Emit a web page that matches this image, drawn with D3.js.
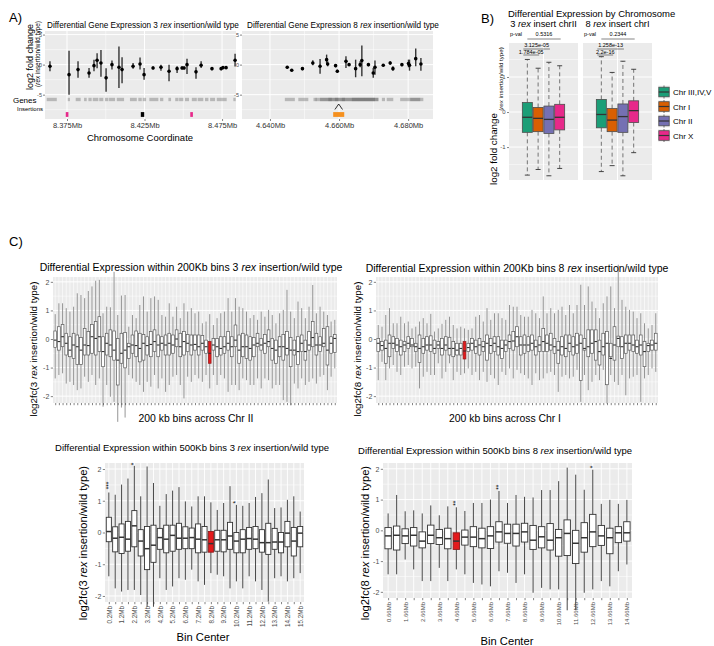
<!DOCTYPE html>
<html><head><meta charset="utf-8">
<script src="https://cdn.jsdelivr.net/npm/d3@7/dist/d3.min.js"></script>
<style>body{margin:0;background:#fff} text{white-space:pre}</style>
</head><body><script>
// ---------------- DATA ----------------
// Panel A (3 rex, chr II) gene-level log2FC with error bars
const a3Pos=[8.3640,8.3763,8.3821,8.3892,8.3924,8.3944,8.3969,8.4002,8.4040,8.4085,8.4105,8.4176,8.4221,8.4247,8.4305,8.4356,8.4408,8.4460,8.4492,8.4505,8.4524,8.4582,8.4615,8.4685,8.4744,8.4756,8.4776,8.4834];
const a3Val=[-0.28,-1.67,-0.83,-1.4,-0.17,0.72,0.28,-2.2,0.0,-0.44,-0.83,-0.28,0.1,-1.67,-0.55,-0.44,-1.1,-0.67,-0.55,-0.55,0.0,-1.2,-0.1,-0.67,-0.67,-0.5,-0.5,0.72];
const a3Hi=[0.55,2.3,0.55,-0.55,0.83,1.9,2.45,-0.6,0.67,3.0,1.23,0.28,1.2,-0.55,-0.28,0.0,0.0,-0.28,-0.28,-0.3,1.0,-0.44,0.55,-0.39,-0.39,-0.3,-0.3,1.8];
const a3Lo=[-1.1,-5.0,-2.2,-2.2,-1.1,-0.6,-2.0,-4.5,-0.83,-3.9,-3.1,-0.67,-0.83,-2.5,-0.83,-1.0,-2.78,-1.39,-0.83,-0.8,-1.55,-2.33,-0.55,-0.94,-0.94,-0.7,-0.7,-0.3];
const a3Genes=[[8.3619,8.3684],[8.3755,8.3769],[8.3806,8.3838],[8.3860,8.3877],[8.3888,8.3909],[8.3916,8.3952],[8.3958,8.3984],[8.3995,8.4017],[8.4021,8.4060],[8.4071,8.4118],[8.4156,8.4200],[8.4210,8.4232],[8.4238,8.4260],[8.4281,8.4339],[8.4350,8.4371],[8.4404,8.4421],[8.4448,8.4469],[8.4473,8.4500],[8.4511,8.4537],[8.4555,8.4587],[8.4593,8.4629],[8.4640,8.4662],[8.4673,8.4705],[8.4716,8.4780],[8.4823,8.4838]];
const a3Ins=[[8.3742,8.3759,"#e7298a"],[8.4226,8.4248,"#000000"],[8.4545,8.4562,"#e7298a"]];
// Panel A (8 rex, chr I)
const a8Pos=[4.6450,4.6463,4.6494,4.6524,4.6545,4.6564,4.6567,4.6590,4.6595,4.6620,4.6629,4.6648,4.6661,4.6666,4.6685,4.6699,4.6704,4.6728,4.6748,4.6756,4.6782,4.6801,4.6804,4.6822,4.6837];
const a8Val=[-0.44,-0.94,-0.67,0.28,-0.28,0.83,0.1,-0.17,-1.1,0.55,0.0,-0.67,0.0,0.67,0.0,-1.4,-0.44,-0.1,0.28,-0.67,0.0,0.17,-0.1,1.0,0.1];
const a8Hi=[-0.28,-0.8,-0.39,0.72,0.94,1.67,0.55,0.11,-0.83,1.39,0.28,0.83,0.55,3.2,0.28,-0.55,0.67,0.11,0.55,-0.28,0.28,0.83,0.83,2.67,1.1];
const a8Lo=[-0.67,-1.1,-0.94,-0.11,-1.5,0.28,-0.28,-0.44,-1.39,-0.55,-0.17,-2.1,-0.44,-1.94,-0.28,-2.2,-1.67,-0.33,0.0,-1.0,-0.28,-0.44,-1.0,-0.28,-1.0];
const a8Genes=[[4.6443,4.6472],[4.6482,4.6511],[4.6526,4.6535],[4.6532,4.6579],[4.6545,4.6598],[4.6569,4.6617],[4.6588,4.6656],[4.6608,4.6675],[4.6637,4.6714],[4.6656,4.6704],[4.6675,4.6714],[4.6724,4.6733],[4.6738,4.6757],[4.6777,4.6844],[4.6806,4.6835]];
const a8Ins=[[4.6583,4.6615,"#f5901e"]];
const a8Caret=4.6599;
const a3Ticks=[8.375,8.425,8.475], a3Minor=[8.40,8.45];
const a8Ticks=[4.640,4.660,4.680], a8Minor=[4.65,4.67];

// Panel B
const chrNames=["Chr III,IV,V","Chr I","Chr II","Chr X"];
const chrColors=["#1b9e77","#d95f02","#7570b3","#e7298a"];
const b3Q3=[0.27,0.13,0.17,0.22], b3Med=[-0.15,-0.18,-0.21,-0.15], b3Q1=[-0.58,-0.56,-0.61,-0.51], b3Hi=[1.5,1.25,1.42,1.32], b3Lo=[-1.8,-1.64,-1.82,-1.61];
const b8Q3=[0.36,0.10,0.23,0.32], b8Med=[-0.07,-0.23,-0.13,0.04], b8Q1=[-0.45,-0.56,-0.58,-0.30], b8Hi=[1.58,1.13,1.45,1.22], b8Lo=[-1.70,-1.53,-1.82,-1.16];
const b3P=["0.5316","3.125e-05","1.784e-05"], b8P=["0.2344","1.258e-13","2.2e-16"];
const bPairs=[[0,3],[0,2],[0,1]];

// Panel C 200kb bins, 3 rex (Chr II)
const c2Q3=[0.28,0.43,0.51,0.20,0.08,0.20,0.14,0.05,0.37,0.26,0.51,0.61,0.78,0.08,0.20,0.32,0.28,0.02,0.20,0.23,-0.15,0.14,0.28,0.20,0.16,0.08,0.26,0.32,0.14,0.08,0.14,0.20,0.14,0.32,0.20,0.26,0.16,0.14,0.14,0.14,0.12,-0.04,-0.09,0.02,0.02,0.08,0.08,0.26,0.08,0.49,0.14,0.20,0.14,0.08,0.05,0.20,0.02,0.16,0.32,0.02,-0.04,0.08,0.16,0.26,0.05,-0.04,0.08,0.14,-0.04,0.26,0.61,0.20,0.08,0.37,0.43,0.08,0.16];
const c2Med=[-0.04,-0.09,0.08,-0.15,-0.39,-0.21,-0.27,-0.39,-0.21,-0.23,0.08,0.02,0.08,-0.44,-0.15,-0.21,-0.39,-0.74,-0.50,-0.39,-0.27,-0.21,-0.23,-0.33,-0.15,-0.23,-0.19,-0.09,-0.21,-0.15,-0.21,-0.15,-0.21,0.00,-0.27,-0.09,-0.15,-0.21,-0.19,-0.27,-0.15,-0.27,-0.50,-0.21,-0.27,-0.33,-0.27,-0.15,-0.27,-0.04,-0.39,-0.27,-0.27,-0.33,-0.21,-0.15,-0.21,-0.15,-0.09,-0.33,-0.39,-0.27,-0.27,-0.33,-0.39,-0.39,-0.44,-0.15,-0.44,-0.21,0.05,-0.21,-0.21,-0.15,-0.39,-0.15,0.02];
const c2Q1=[-0.30,-0.39,-0.27,-0.56,-0.62,-0.68,-0.89,-0.89,-0.56,-0.56,-0.50,-0.56,-0.44,-0.97,-0.56,-0.62,-0.74,-1.61,-0.85,-1.01,-0.68,-0.50,-0.62,-0.80,-0.74,-0.56,-0.62,-0.44,-0.62,-0.39,-0.56,-0.56,-0.50,-0.27,-0.62,-0.56,-0.44,-0.56,-0.39,-0.56,-0.39,-0.50,-0.85,-0.39,-0.62,-0.56,-0.50,-0.39,-0.62,-0.27,-0.85,-0.62,-0.68,-0.74,-0.62,-0.27,-0.39,-0.50,-0.27,-0.74,-0.85,-0.62,-0.74,-0.56,-0.97,-0.56,-0.89,-0.44,-0.74,-0.39,-0.27,-0.56,-0.44,-0.27,-0.91,-0.50,-0.47];
const c2Hi=[0.87,1.25,1.25,1.08,0.96,1.13,1.60,1.54,1.43,1.68,1.84,2.04,2.07,0.90,1.13,1.11,2.35,0.84,1.52,1.54,0.43,0.84,0.73,1.19,1.49,0.96,1.43,1.49,1.37,0.84,0.78,1.25,0.78,1.13,0.73,1.25,0.96,1.08,0.90,0.96,0.55,0.61,0.87,0.49,0.73,0.90,0.96,1.43,0.96,1.43,1.13,1.08,0.96,0.73,0.84,0.67,0.96,0.78,1.02,0.84,0.55,0.90,1.02,1.72,0.96,0.73,1.31,1.08,0.73,1.13,1.89,0.90,1.13,0.96,0.84,0.61,0.67];
const c2Lo=[-1.38,-1.26,-1.20,-1.56,-1.50,-1.61,-1.79,-1.73,-1.32,-1.50,-1.26,-1.61,-1.38,-2.37,-1.61,-2.02,-2.20,-2.90,-2.40,-2.75,-1.26,-1.38,-1.50,-1.61,-1.85,-1.50,-1.67,-1.26,-1.73,-1.38,-1.85,-1.61,-1.32,-1.26,-1.61,-2.08,-1.32,-1.50,-1.26,-1.38,-1.50,-1.26,-1.73,-1.26,-1.61,-1.26,-1.38,-1.85,-1.61,-1.61,-1.79,-1.38,-1.44,-1.61,-1.61,-1.38,-1.73,-1.38,-1.44,-1.73,-1.61,-1.61,-2.14,-2.20,-2.32,-1.56,-1.73,-1.38,-1.61,-1.50,-1.38,-1.56,-1.32,-1.26,-1.79,-1.32,-1.03];
const c2Red=42;
// Panel C 200kb bins, 8 rex (Chr I)
const c1Q3=[0.02,-0.09,-0.04,0.14,0.08,0.02,-0.04,-0.09,0.08,0.02,-0.15,0.14,0.02,0.08,0.11,-0.04,-0.09,0.02,0.08,0.06,-0.09,-0.15,-0.15,-0.09,-0.15,0.02,-0.04,0.02,-0.09,0.14,0.02,0.08,0.08,-0.04,-0.04,0.14,0.26,0.43,0.08,0.14,0.08,0.14,-0.04,0.08,0.37,0.14,0.20,0.02,-0.09,0.08,0.14,0.14,0.08,0.20,0.14,0.02,0.32,0.32,0.32,-0.04,0.20,0.26,-0.15,0.43,0.10,0.08,0.14,0.14,0.14,-0.04,0.14,-0.09,-0.15,-0.04,0.20];
const c1Med=[-0.15,-0.23,-0.33,-0.15,-0.15,-0.21,-0.27,-0.21,-0.15,-0.21,-0.27,-0.33,-0.27,-0.21,-0.21,-0.33,-0.21,-0.33,-0.21,-0.33,-0.33,-0.39,-0.33,-0.42,-0.30,-0.15,-0.27,-0.21,-0.27,-0.15,-0.23,-0.15,-0.27,-0.33,-0.21,-0.09,-0.07,0.08,-0.21,-0.21,-0.21,-0.15,-0.27,-0.21,-0.09,-0.15,-0.21,-0.27,-0.39,-0.27,-0.33,-0.15,-0.27,-0.21,-0.15,-0.33,-0.27,-0.15,-0.09,-0.44,-0.27,-0.15,-0.68,-0.21,0.02,-0.27,-0.15,-0.15,-0.21,-0.27,-0.21,-0.44,-0.23,-0.21,-0.15];
const c1Q1=[-0.44,-0.39,-0.85,-0.62,-0.33,-0.44,-0.56,-0.44,-0.33,-0.27,-0.44,-0.82,-0.50,-0.39,-0.44,-0.50,-0.33,-0.56,-0.39,-0.56,-0.62,-0.56,-0.56,-0.70,-0.44,-0.39,-0.50,-0.56,-0.44,-0.74,-0.50,-0.44,-0.56,-0.68,-0.44,-0.33,-0.39,-0.27,-0.56,-0.50,-0.44,-0.39,-0.56,-0.44,-0.44,-0.44,-0.39,-0.50,-0.85,-0.56,-0.62,-0.44,-0.56,-0.50,-1.45,-0.39,-0.62,-0.50,-0.74,-0.91,-0.56,-1.60,-0.62,-0.74,-0.27,-0.68,-0.50,-0.39,-0.44,-0.50,-0.56,-0.97,-0.44,-0.39,-0.39];
const c1Hi=[0.49,0.43,0.84,1.08,0.55,0.55,0.78,0.55,0.61,0.37,0.43,0.61,0.73,0.55,0.88,0.26,0.37,0.53,0.67,0.78,0.49,0.37,0.43,0.37,0.32,0.37,0.78,0.84,0.61,1.08,0.67,0.90,0.90,0.73,0.67,1.19,1.13,1.13,0.84,0.78,0.78,1.02,0.90,0.73,1.49,0.90,1.08,0.90,1.02,1.13,0.84,1.19,0.90,1.19,1.90,1.19,1.84,1.31,1.08,0.73,1.25,1.49,1.84,1.08,2.60,1.37,1.13,1.02,0.96,0.73,0.90,0.55,0.37,0.49,0.90];
const c1Lo=[-1.44,-0.80,-1.44,-1.03,-0.91,-1.15,-1.26,-0.97,-0.91,-1.03,-0.97,-1.73,-1.32,-1.15,-1.26,-1.26,-0.85,-1.38,-1.15,-0.85,-1.44,-1.15,-1.26,-1.20,-1.03,-1.26,-1.15,-1.44,-1.15,-1.50,-1.26,-1.38,-1.61,-1.15,-1.26,-1.03,-1.38,-1.08,-1.20,-1.26,-1.38,-1.61,-1.20,-1.44,-1.38,-1.20,-1.15,-1.26,-1.85,-1.32,-1.26,-1.38,-1.32,-1.08,-2.20,-1.26,-1.79,-1.50,-1.26,-1.44,-1.08,-2.26,-1.26,-1.50,-1.61,-1.26,-1.97,-1.38,-1.32,-1.26,-2.20,-1.38,-1.26,-1.03,-1.15];
const c1Red=23;
// Panel C 500kb bins, 3 rex
const d3Centers=[0.2,0.7,1.2,1.7,2.2,2.7,3.2,3.7,4.2,4.7,5.2,5.7,6.2,6.7,7.2,7.7,8.2,8.7,9.2,9.7,10.2,10.7,11.2,11.7,12.2,12.7,13.2,13.7,14.2,14.7,15.2];
const d3Q3=[0.48,0.18,0.27,0.35,0.69,0.09,0.19,0.23,0.13,0.23,0.23,0.29,0.18,0.14,0.27,0.19,0.03,0.07,0.07,0.32,0.00,0.09,0.16,0.19,0.09,0.29,0.13,0.00,0.35,0.16,0.19];
const d3Med=[0.03,-0.18,-0.15,-0.21,0.21,-0.27,-0.51,-0.40,-0.16,-0.21,-0.09,-0.18,-0.18,-0.16,-0.21,-0.23,-0.35,-0.23,-0.23,-0.11,-0.27,-0.21,-0.19,-0.21,-0.32,-0.32,-0.30,-0.30,-0.02,-0.27,-0.02];
const d3Q1=[-0.29,-0.61,-0.66,-0.59,-0.45,-0.74,-1.17,-0.94,-0.53,-0.64,-0.59,-0.53,-0.51,-0.51,-0.64,-0.62,-0.62,-0.59,-0.61,-0.53,-0.64,-0.64,-0.53,-0.51,-0.62,-0.69,-0.53,-0.64,-0.45,-0.74,-0.45];
const d3Hi=[1.26,1.19,1.51,1.70,2.10,1.14,2.08,1.56,0.84,1.21,1.32,1.43,0.98,0.82,1.14,1.14,0.95,0.71,0.93,1.46,0.87,0.84,0.93,1.12,1.24,1.67,0.77,0.79,1.03,1.14,0.66];
const d3Lo=[-1.38,-1.76,-1.86,-1.81,-1.81,-1.97,-2.34,-2.34,-1.44,-1.81,-1.70,-1.44,-1.49,-1.17,-1.54,-1.65,-1.28,-1.33,-1.38,-1.76,-1.54,-1.76,-1.38,-1.54,-1.81,-2.18,-1.44,-1.38,-1.54,-1.44,-1.28];
const d3Red=16;
const d3Stars=[[0,"***",1.48],[4,"*",2.16],[20,"*",0.95]];
// Panel C 500kb bins, 8 rex
const d8Centers=[0.66,1.16,1.66,2.16,2.66,3.16,3.66,4.16,4.66,5.16,5.66,6.16,6.66,7.16,7.66,8.16,8.66,9.16,9.66,10.16,10.66,11.16,11.66,12.16,12.66,13.16,13.66,14.16,14.66];
const d8Q3=[0.09,0.14,0.05,0.09,-0.05,0.17,0.03,0.07,-0.08,0.01,0.12,0.07,0.12,0.28,0.20,0.20,0.23,0.16,0.12,0.22,0.03,0.34,0.00,0.25,0.52,0.16,0.07,0.12,0.28];
const d8Med=[-0.18,-0.16,-0.18,-0.16,-0.35,-0.16,-0.24,-0.27,-0.35,-0.22,-0.22,-0.27,-0.18,-0.05,-0.10,-0.10,-0.05,-0.32,-0.21,-0.32,-0.24,-0.10,-0.42,-0.24,-0.05,-0.18,-0.24,-0.08,-0.08];
const d8Q1=[-0.60,-0.64,-0.43,-0.51,-0.57,-0.43,-0.46,-0.60,-0.62,-0.48,-0.53,-0.57,-0.59,-0.38,-0.42,-0.51,-0.38,-0.62,-0.57,-0.64,-0.84,-0.82,-1.08,-0.71,-0.53,-0.49,-0.76,-0.40,-0.35];
const d8Hi=[0.55,1.15,0.62,0.65,0.55,0.81,0.49,0.78,0.75,0.63,0.89,0.89,1.00,1.28,0.89,1.15,1.09,1.07,1.31,1.31,1.60,2.04,1.81,1.32,1.97,0.86,0.99,0.86,0.99];
const d8Lo=[-1.43,-1.43,-0.95,-1.27,-1.65,-1.65,-1.22,-1.65,-1.27,-1.43,-1.71,-1.76,-1.82,-1.33,-1.38,-1.71,-1.43,-2.03,-1.87,-1.92,-1.92,-2.60,-2.60,-2.03,-1.92,-1.65,-1.82,-1.33,-1.11];
const d8Red=8;
const d8Stars=[[8,"**",0.88],[13,"**",1.40],[24,"*",2.06]];

// ---------------- DRAWING ----------------
const FONT="'Liberation Sans', Arial, Helvetica, sans-serif";
const BG="#ebebeb", AX="#4d4d4d";
const svg=d3.select("body").append("svg").attr("width",714).attr("height",646).attr("font-family",FONT);

function bg(x0,y0,x1,y1){svg.append("rect").attr("x",x0).attr("y",y0).attr("width",x1-x0).attr("height",y1-y0).attr("fill",BG);}
function ln(g,x1,y1,x2,y2,c,w){return g.append("line").attr("x1",x1).attr("y1",y1).attr("x2",x2).attr("y2",y2).attr("stroke",c).attr("stroke-width",w);}
function rich(x,y,parts,size,o={}){
  const t=svg.append("text").attr("x",x).attr("y",y).attr("font-size",size).attr("text-anchor",o.anchor||"middle").attr("fill",o.fill||"#000");
  if(o.rot) t.attr("transform",`rotate(${o.rot},${x},${y})`);
  parts.forEach(p=>{const s=t.append("tspan").text(p[0]); if(p[1]) s.attr("font-style","italic");});
  return t;
}
function styleAxis(g,fs){
  g.attr("font-family",FONT).attr("font-size",fs);
  g.select(".domain").remove();
  g.selectAll(".tick line").attr("stroke","#333").attr("stroke-width",0.6);
  g.selectAll(".tick text").attr("fill",AX);
}

// Panel labels
rich(9,21.5,[["A)"]],13,{anchor:"start"});
rich(481,23,[["B)"]],13,{anchor:"start"});
rich(9,246,[["C)"]],13,{anchor:"start"});

// ---- Panel A ----
function panelA(o){
  const x=d3.scaleLinear().domain(o.dom).range([o.x0,o.x1]);
  const y=d3.scaleLinear().domain([-9.05,5.6]).range([119,31]);
  bg(o.x0,31,o.x1,119);
  const g=svg.append("g");
  [-7.5,-2.5,2.5].forEach(v=>ln(g,o.x0,y(v),o.x1,y(v),"#fff",0.5));
  o.minor.forEach(v=>ln(g,x(v),31,x(v),119,"#fff",0.5));
  [-5,0,5].forEach(v=>ln(g,o.x0,y(v),o.x1,y(v),"#fff",1));
  o.ticks.forEach(v=>ln(g,x(v),31,x(v),119,"#fff",1));
  g.selectAll(".gene").data(o.genes).join("rect")
    .attr("x",d=>x(d[0])).attr("width",d=>Math.max(1,x(d[1])-x(d[0])))
    .attr("y",y(-5.52)).attr("height",y(-6.08)-y(-5.52)).attr("fill","#555").attr("opacity",0.35);
  g.selectAll(".ins").data(o.ins).join("rect")
    .attr("x",d=>x(d[0])).attr("width",d=>x(d[1])-x(d[0]))
    .attr("y",y(-7.9)).attr("height",y(-8.7)-y(-7.9)).attr("fill",d=>d[2]);
  const idx=d3.range(o.pos.length);
  g.selectAll(".eb").data(idx).join("line")
    .attr("x1",i=>x(o.pos[i])).attr("x2",i=>x(o.pos[i]))
    .attr("y1",i=>y(o.hi[i])).attr("y2",i=>y(o.lo[i])).attr("stroke","#333").attr("stroke-width",1.4);
  g.selectAll(".pt").data(idx).join("circle")
    .attr("cx",i=>x(o.pos[i])).attr("cy",i=>y(o.val[i])).attr("r",1.8).attr("fill","#000");
  const ax=svg.append("g").attr("transform","translate(0,119)")
    .call(d3.axisBottom(x).tickValues(o.ticks).tickSize(2).tickPadding(1.5).tickFormat(d=>d3.format(".3f")(d)+"Mb"));
  styleAxis(ax,7.5); ax.selectAll(".tick text").attr("fill","#333");
  const ay=svg.append("g").attr("transform",`translate(${o.x0},0)`)
    .call(d3.axisLeft(y).tickValues([-5,0,5]).tickSize(2).tickPadding(1).tickFormat(d=>String(d)));
  styleAxis(ay,5.5);
  return {x,y};
}
const A3=panelA({x0:45,x1:236,dom:[8.3608,8.4840],ticks:a3Ticks,minor:a3Minor,pos:a3Pos,val:a3Val,hi:a3Hi,lo:a3Lo,genes:a3Genes,ins:a3Ins});
const A8=panelA({x0:242,x1:433,dom:[4.6319,4.6872],ticks:a8Ticks,minor:a8Minor,pos:a8Pos,val:a8Val,hi:a8Hi,lo:a8Lo,genes:a8Genes,ins:a8Ins});
{
  const cx=A8.x(a8Caret);
  svg.append("path").attr("d",`M${cx-3.8},109.5L${cx},104L${cx+3.8},109.5`).attr("fill","none").attr("stroke","#000").attr("stroke-width",0.8);
}
rich(36.5,103,[["Genes"]],8,{anchor:"end"});
rich(43,110.5,[["Insertions"]],6,{anchor:"end"});
rich(47,28,[["Differential Gene Expression 3 "],["rex",1],[" insertion/wild type"]],8.2,{anchor:"start"});
rich(247,28,[["Differential Gene Expression 8 "],["rex",1],[" insertion/wild type"]],8.2,{anchor:"start"});
rich(140,140.5,[["Chromosome Coordinate"]],9.5);
rich(32.5,57,[["log2 fold change"]],9,{rot:-90});
rich(39.5,54,[["("],["rex",1],[" insertion/wild type)"]],6.4,{rot:-90});

// ---- Panel B ----
const bY=d3.scaleLinear().domain([-1.94,1.97]).range([180,43]);
function facetB(o){
  bg(o.x0,43,o.x1,180);
  const g=svg.append("g");
  [-1.5,-0.5,0.5,1.5].forEach(v=>ln(g,o.x0,bY(v),o.x1,bY(v),"#fff",0.5));
  [-1,0,1].forEach(v=>ln(g,o.x0,bY(v),o.x1,bY(v),"#fff",1));
  const cx=(o.x0+o.x1)/2, unit=(o.x1-o.x0)/1.2;
  ln(g,cx,43,cx,180,"#fff",1);
  const x=d3.scaleBand().domain(chrNames).range([cx-0.375*unit,cx+0.375*unit]);
  const bw=x.bandwidth(), idx=d3.range(4);
  const c=i=>x(chrNames[i])+bw/2;
  idx.forEach(i=>{
    ln(g,c(i),bY(o.q3[i]),c(i),bY(o.hi[i]),"#555",0.8).attr("stroke-dasharray","4,3");
    ln(g,c(i),bY(o.q1[i]),c(i),bY(o.lo[i]),"#555",0.8).attr("stroke-dasharray","4,3");
    ln(g,c(i)-2.5,bY(o.hi[i]),c(i)+2.5,bY(o.hi[i]),"#333",0.9);
    ln(g,c(i)-2.5,bY(o.lo[i]),c(i)+2.5,bY(o.lo[i]),"#333",0.9);
  });
  g.selectAll(".bx").data(idx).join("rect")
    .attr("x",i=>x(chrNames[i])+0.4).attr("width",bw-0.8)
    .attr("y",i=>bY(o.q3[i])).attr("height",i=>bY(o.q1[i])-bY(o.q3[i]))
    .attr("fill",i=>chrColors[i]).attr("stroke","#4d4d4d").attr("stroke-width",0.8);
  idx.forEach(i=>ln(g,x(chrNames[i])+0.4,bY(o.med[i]),x(chrNames[i])+bw-0.4,bY(o.med[i]),"#333",1.3));
  // p-values
  const ly=[39,49,55], ty=[36,47,54];
  bPairs.forEach((p,k)=>{
    const xa=c(p[0])-(k?4:0), xb=c(p[1])+1;
    ln(svg,xa,ly[k],xb,ly[k],"#333",0.6);
    svg.append("text").attr("x",(xa+xb)/2).attr("y",ty[k]).attr("text-anchor","middle").attr("font-size",5.5).text(o.p[k]);
  });
  svg.append("text").attr("x",o.x0+1).attr("y",36).attr("font-size",5.5).text("p-val");
  rich(cx,27,o.title,9.3);
}
facetB({x0:509,x1:578,q3:b3Q3,med:b3Med,q1:b3Q1,hi:b3Hi,lo:b3Lo,p:b3P,title:[["3 "],["rex",1],[" insert chrII"]]});
facetB({x0:583,x1:652,q3:b8Q3,med:b8Med,q1:b8Q1,hi:b8Hi,lo:b8Lo,p:b8P,title:[["8 "],["rex",1],[" insert chrI"]]});
{
  const ay=svg.append("g").attr("transform","translate(509,0)")
    .call(d3.axisLeft(bY).tickValues([-1,0,1]).tickSize(2).tickPadding(1.5).tickFormat(d=>String(d)));
  styleAxis(ay,6);
}
rich(508,16.5,[["Differential Expression by Chromosome"]],9.5,{anchor:"start"});
rich(496.5,149,[["log2 fold change"]],9.8,{rot:-90});
rich(502.5,79,[["("],["rex",1],[" insertion/wild type)"]],6.2,{rot:-90});
// legend
{
  const ly=[92,106.5,121,135.5];
  chrNames.forEach((n,i)=>{
    const c=ly[i];
    svg.append("rect").attr("x",658).attr("y",c-6.5).attr("width",12).attr("height",13).attr("fill","#f2f2f2");
    ln(svg,664,c-6.5,664,c+6.5,"#333",0.7);
    svg.append("rect").attr("x",658.8).attr("y",c-4.8).attr("width",10.4).attr("height",9.6).attr("fill",chrColors[i]).attr("stroke","#4d4d4d").attr("stroke-width",0.8);
    ln(svg,658.8,c,669.2,c,"#333",1.2);
    svg.append("text").attr("x",673).attr("y",c+3).attr("font-size",8).text(n);
  });
}

// ---- Panel C ----
function boxPanel(o){
  const x=d3.scalePoint().domain(o.cats).range([o.x0,o.x1]).padding(0.6);
  const y=d3.scaleLinear().domain(o.yDom).range([o.y1,o.y0]);
  bg(o.x0,o.y0,o.x1,o.y1);
  const g=svg.append("g");
  [-1.5,-0.5,0.5,1.5].forEach(v=>ln(g,o.x0,y(v),o.x1,y(v),"#fff",0.5));
  [-2,-1,0,1,2].forEach(v=>ln(g,o.x0,y(v),o.x1,y(v),"#fff",1));
  o.cats.forEach(c=>ln(g,x(c),o.y0,x(c),o.y1,"#fff",o.vgw));
  const bw=x.step()*o.wf, idx=d3.range(o.cats.length);
  const cx=i=>x(o.cats[i]);
  g.selectAll(".wh").data(idx).join("line")
    .attr("x1",cx).attr("x2",cx).attr("y1",i=>y(o.hi[i])).attr("y2",i=>y(o.lo[i]))
    .attr("stroke",o.whC).attr("stroke-width",o.whW);
  g.selectAll(".bx").data(idx).join("rect")
    .attr("x",i=>cx(i)-bw/2).attr("width",bw)
    .attr("y",i=>y(o.q3[i])).attr("height",i=>y(o.q1[i])-y(o.q3[i]))
    .attr("fill",i=>i===o.red?"#e41a1c":"#fff")
    .attr("stroke",i=>i===o.red?"#8e1b1b":o.boxC).attr("stroke-width",o.boxW);
  g.selectAll(".md").data(idx).join("line")
    .attr("x1",i=>cx(i)-bw/2).attr("x2",i=>cx(i)+bw/2).attr("y1",i=>y(o.med[i])).attr("y2",i=>y(o.med[i]))
    .attr("stroke","#333").attr("stroke-width",o.medW);
  (o.stars||[]).forEach(s=>{
    const px=cx(s[0])+2, py=y(s[2]);
    svg.append("text").attr("x",px).attr("y",py).attr("font-size",6.5).attr("text-anchor","middle")
      .attr("transform",`rotate(-90,${px},${py})`).text(s[1]);
  });
  const ay=svg.append("g").attr("transform",`translate(${o.x0},0)`)
    .call(d3.axisLeft(y).tickValues([-2,-1,0,1,2]).tickSize(2.2).tickPadding(1.5).tickFormat(d=>String(d)));
  styleAxis(ay,o.yfs);
  const ax=svg.append("g").attr("transform",`translate(0,${o.y1})`)
    .call(d3.axisBottom(x).tickSize(2.2).tickFormat((d,i)=>o.lab?o.lab(d,i):""));
  styleAxis(ax,o.xfs||6);
  if(o.lab){
    ax.selectAll(".tick text").attr("transform","rotate(-90)").attr("text-anchor","end")
      .attr("x",-4).attr("y",0).attr("dy","0.35em");
  }
}
const c2Cats=d3.range(c2Q3.length), c1Cats=d3.range(c1Q3.length);
boxPanel({cats:c2Cats,x0:53,x1:337,y0:277,y1:403,yDom:[-2.24,2.17],q3:c2Q3,med:c2Med,q1:c2Q1,hi:c2Hi,lo:c2Lo,red:c2Red,
  wf:0.75,vgw:0.6,whC:"#8a8a8a",whW:0.9,boxC:"#5a5a5a",boxW:0.7,medW:1.1,yfs:7});
boxPanel({cats:c1Cats,x0:376,x1:658,y0:277,y1:403,yDom:[-2.24,2.17],q3:c1Q3,med:c1Med,q1:c1Q1,hi:c1Hi,lo:c1Lo,red:c1Red,
  wf:0.75,vgw:0.6,whC:"#8a8a8a",whW:0.9,boxC:"#5a5a5a",boxW:0.7,medW:1.1,yfs:7});
boxPanel({cats:d3Centers,x0:105,x1:304,y0:463,y1:602,yDom:[-2.19,2.19],q3:d3Q3,med:d3Med,q1:d3Q1,hi:d3Hi,lo:d3Lo,red:d3Red,stars:d3Stars,
  wf:0.8,vgw:0.9,whC:"#333",whW:0.9,boxC:"#333",boxW:0.9,medW:1.5,yfs:7,xfs:6.3,lab:(d,i)=>i%2===0?d+"Mb":""});
boxPanel({cats:d8Centers,x0:383,x1:632,y0:463,y1:598,yDom:[-2.2,2.19],q3:d8Q3,med:d8Med,q1:d8Q1,hi:d8Hi,lo:d8Lo,red:d8Red,stars:d8Stars,
  wf:0.75,vgw:0.9,whC:"#333",whW:0.9,boxC:"#333",boxW:0.9,medW:1.5,yfs:7,xfs:6,lab:(d,i)=>i%2===0?d+"Mb":""});

rich(191,271,[["Differential Expression within 200Kb bins 3 "],["rex",1],[" insertion/wild type"]],10.5);
rich(517,272,[["Differential Expression within 200Kb bins 8 "],["rex",1],[" insertion/wild type"]],10.5);
rich(196,422,[["200 kb bins across Chr II"]],10.4);
rich(505,422,[["200 kb bins across Chr I"]],10.4);
rich(36.5,349,[["log2fc(3 "],["rex",1],[" insertion/wild type)"]],9.8,{rot:-90});
rich(360.5,349,[["log2fc(8 "],["rex",1],[" insertion/wild type)"]],9.8,{rot:-90});
rich(192,450.5,[["Differential Expression within 500Kb bins 3 "],["rex",1],[" insertion/wild type"]],9.5);
rich(495,453.5,[["Differential Expression within 500Kb bins 8 "],["rex",1],[" insertion/wild type"]],9.5);
rich(87,543,[["log2fc(3 "],["rex",1],[" insertion/wild type)"]],11.2,{rot:-90});
rich(369,543,[["log2fc(8 "],["rex",1],[" insertion/wild type)"]],11.2,{rot:-90});
rich(203,640.5,[["Bin Center"]],11.2);
rich(507,645,[["Bin Center"]],11.2);
</script></body></html>
